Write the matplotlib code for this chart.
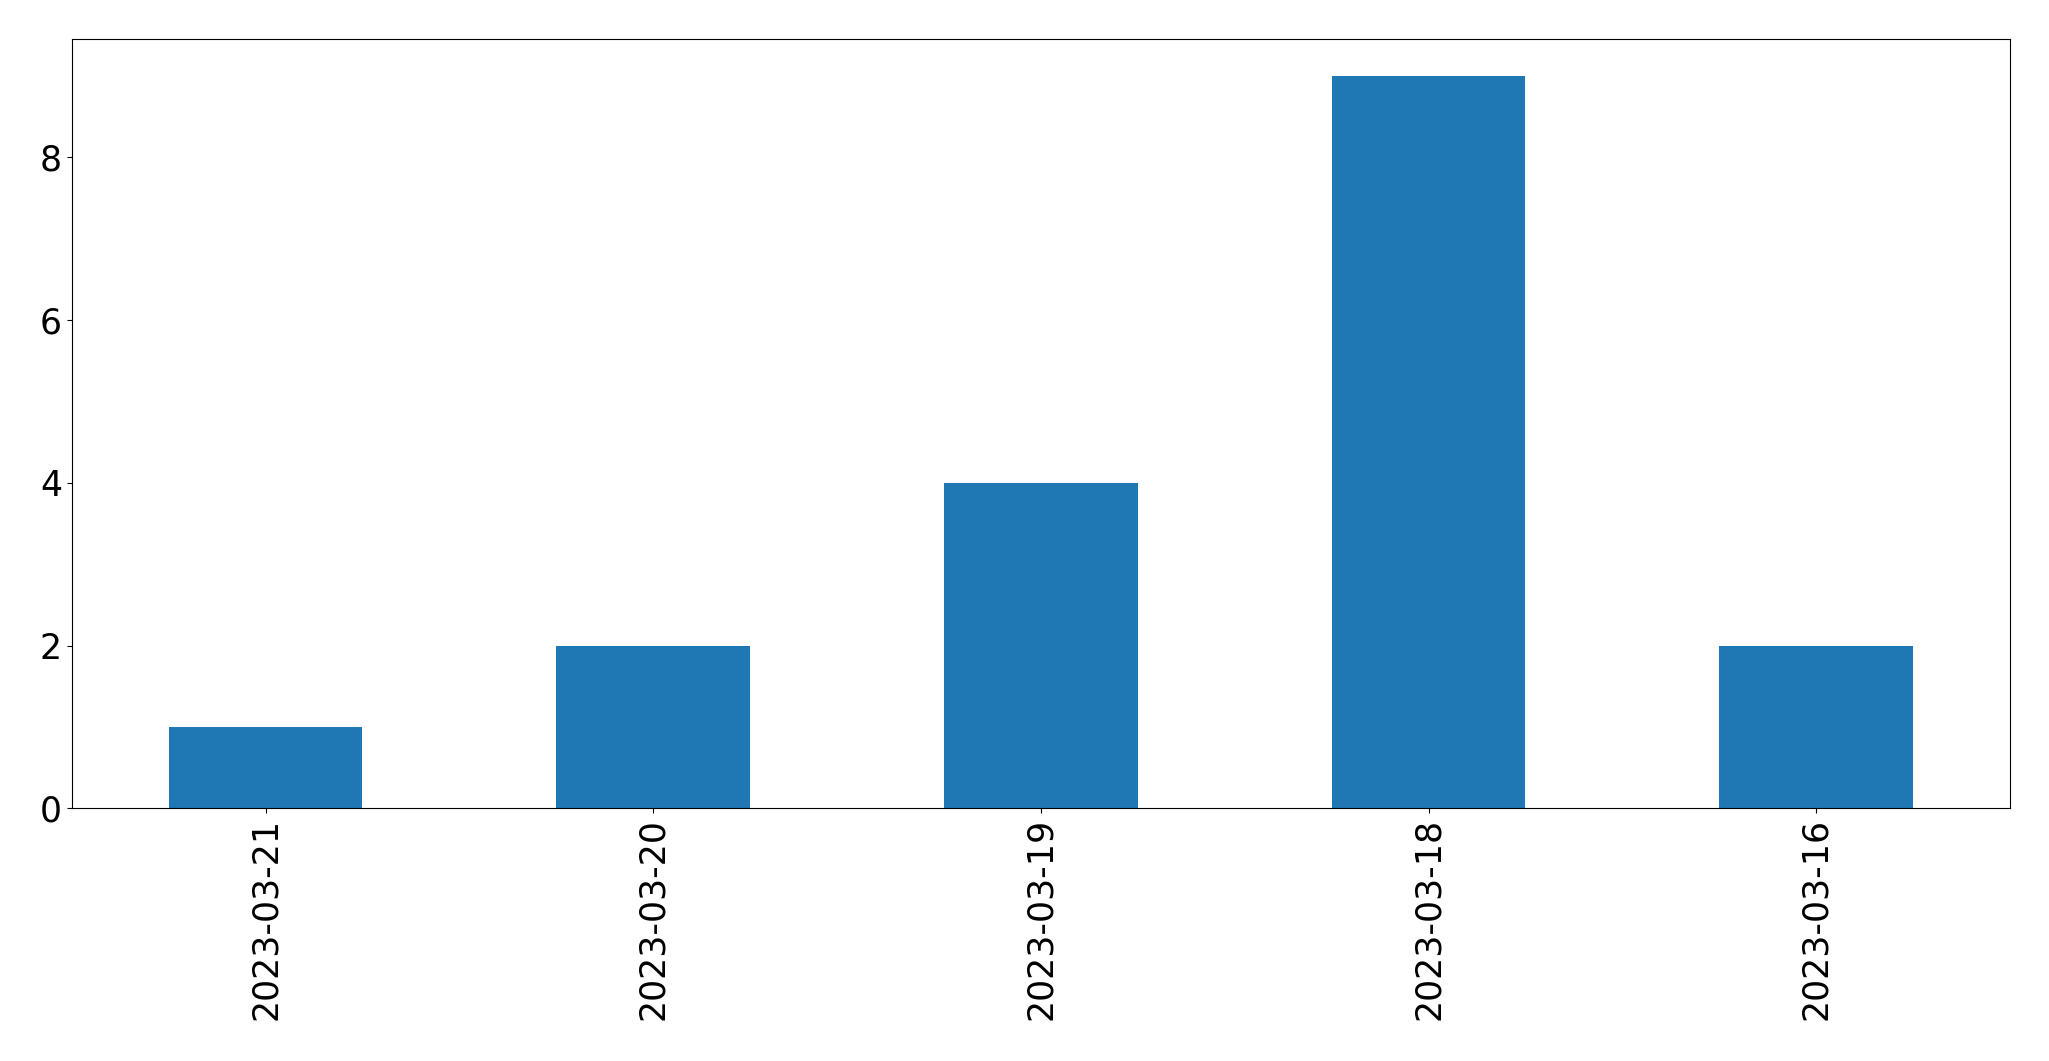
import matplotlib
matplotlib.use("Agg")
import matplotlib.pyplot as plt
import pandas as pd

dates  = ["2023-03-21", "2023-03-20", "2023-03-19", "2023-03-18", "2023-03-16"]
counts = [1, 2, 4, 9, 2]

series = pd.Series(counts, index=dates)

fig = plt.figure(figsize=(20.49, 10.61), dpi=100)
ax = fig.add_axes([0.035, 0.238, 0.946, 0.725])
series.plot.bar(ax=ax, color="#1f77b4", width=0.5)
ax.tick_params(axis="both", labelsize=25)
ax.set_xlabel("")

fig.savefig("out.png", dpi=100)
